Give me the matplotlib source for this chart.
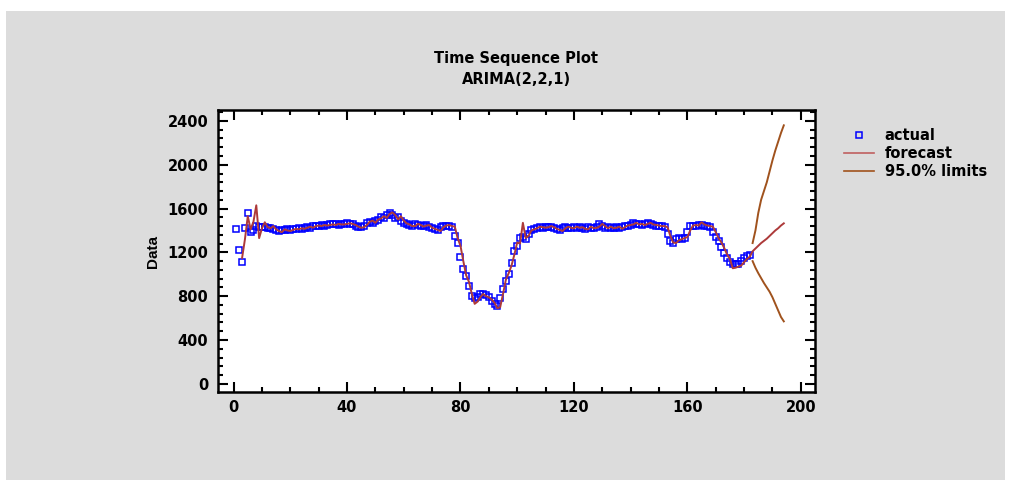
import matplotlib
matplotlib.use("Agg")
import matplotlib.pyplot as plt
from matplotlib.patches import Rectangle
from matplotlib.ticker import MultipleLocator
from matplotlib.lines import Line2D

plt.rcParams['font.family'] = ['DejaVu Sans']
plt.rcParams['font.weight'] = 'bold'

title = "Time Sequence Plot\nARIMA(2,2,1)"
y_label = "Data"
legend_labels = ["actual", "forecast", "95.0% limits"]

actual_start = 1
actual = [
    1410, 1225, 1115, 1420, 1560, 1390, 1400, 1440, 1430, 1435,
    1430, 1420, 1425, 1410, 1400, 1395, 1405, 1400, 1410, 1405,
    1410, 1415, 1420, 1410, 1425, 1430, 1420, 1440, 1445, 1440,
    1450, 1445, 1450, 1455, 1455, 1460, 1450, 1455, 1460, 1465,
    1460, 1455, 1440, 1435, 1430, 1445, 1470, 1480, 1465, 1490,
    1500, 1520, 1510, 1540, 1555, 1545, 1510, 1520, 1490, 1470,
    1460, 1450, 1445, 1455, 1450, 1440, 1445, 1450, 1430, 1420,
    1410, 1400, 1430, 1440, 1445, 1440, 1430, 1350, 1290, 1160,
    1050, 980, 890, 800, 780, 790, 820, 820, 810, 790,
    760, 730, 710, 780, 870, 940, 1000, 1100, 1210, 1260,
    1330, 1340, 1320, 1370, 1400, 1410, 1420, 1430, 1425, 1430,
    1435, 1430, 1420, 1410, 1400, 1420, 1430, 1425, 1420, 1430,
    1425, 1430, 1420, 1415, 1430, 1420, 1425, 1430, 1455, 1440,
    1425, 1430, 1420, 1425, 1430, 1420, 1430, 1440, 1445, 1450,
    1465, 1455, 1460, 1450, 1460, 1465, 1455, 1450, 1445, 1440,
    1440, 1435, 1370, 1300, 1290, 1320, 1330, 1325, 1330, 1385,
    1440, 1445, 1440, 1450, 1450, 1445, 1440, 1435, 1390, 1340,
    1300, 1250, 1195, 1150, 1110, 1095, 1090, 1095, 1120, 1150, 1165, 1175,
]

forecast_start = 3
forecast = [
    1150, 1320, 1530, 1410, 1480, 1630, 1330, 1420,
    1475, 1430, 1420, 1440, 1410, 1395, 1385, 1410, 1400, 1395,
    1405, 1415, 1410, 1420, 1415, 1425, 1435, 1425, 1440, 1445,
    1440, 1450, 1445, 1450, 1455, 1450, 1460, 1455, 1455, 1460,
    1465, 1460, 1450, 1435, 1425, 1430, 1450, 1480, 1490, 1470,
    1500, 1510, 1530, 1515, 1550, 1565, 1540, 1500, 1530, 1490,
    1465, 1455, 1440, 1440, 1460, 1450, 1435, 1445, 1450, 1425,
    1415, 1405, 1395, 1430, 1445, 1450, 1440, 1435, 1330, 1260,
    1120, 990, 930, 820, 730, 750, 790, 820, 800, 790,
    770, 740, 690, 700, 820, 950, 1010, 1080, 1180, 1290,
    1280, 1470, 1330, 1350, 1400, 1410, 1420, 1435, 1430, 1425,
    1430, 1440, 1430, 1415, 1405, 1395, 1420, 1435, 1425, 1420,
    1435, 1425, 1430, 1415, 1410, 1435, 1420, 1425, 1435, 1460,
    1440, 1420, 1435, 1420, 1425, 1435, 1415, 1430, 1445, 1450,
    1455, 1470, 1455, 1460, 1450, 1460, 1470, 1455, 1450, 1445,
    1440, 1440, 1430, 1350, 1290, 1285, 1310, 1320, 1330, 1340,
    1400, 1445, 1450, 1445, 1475, 1455, 1445, 1440, 1435, 1385,
    1330, 1290, 1240, 1180, 1140, 1055, 1060, 1070, 1080, 1110, 1140, 1160,
    1210, 1235, 1260, 1285, 1305, 1325, 1350, 1375, 1400, 1420, 1445, 1465,
]

limits_start = 183
upper = [1285, 1400, 1560, 1680, 1760, 1840, 1940, 2040, 2130, 2210, 2290, 2360]
lower = [1120, 1060, 1010, 965, 920, 880, 840, 790, 730, 670, 610, 570]

t_actual = list(range(actual_start, actual_start + len(actual)))
t_fc = list(range(forecast_start, forecast_start + len(forecast)))
t_lim = list(range(limits_start, limits_start + len(upper)))

W, H = 1012, 482
fig = plt.figure(figsize=(W / 100, H / 100), dpi=100)
fig.patch.set_facecolor("white")
fig.patches.append(Rectangle((6 / W, 2 / H), 999 / W, 469 / H, transform=fig.transFigure,
                             facecolor="#dcdcdc", edgecolor="none", zorder=-10))

ax = fig.add_axes([218 / W, 1 - 392 / H, 597 / W, 282 / H])
ax.set_facecolor("white")

fc_color = "#ad3a3a"
lim_color = "#a0521d"

ax.plot(t_fc, forecast, color=fc_color, lw=1.4, zorder=3)
ax.plot(t_lim, upper, color=lim_color, lw=1.4, zorder=3)
ax.plot(t_lim, lower, color=lim_color, lw=1.4, zorder=3)
ax.plot(t_actual, actual, linestyle="none", marker="s", markersize=4.4,
        markerfacecolor="none", markeredgecolor="#0000ff", markeredgewidth=1.1, zorder=2)

ax.set_xlim(-5.5, 205)
ax.set_ylim(-75, 2500)
ax.xaxis.set_major_locator(MultipleLocator(40))
ax.xaxis.set_minor_locator(MultipleLocator(10))
ax.yaxis.set_major_locator(MultipleLocator(400))
ax.yaxis.set_minor_locator(MultipleLocator(80))
ax.tick_params(which="both", direction="in", top=True, right=True, width=1.5,
               labelsize=10.5, colors="black")
ax.tick_params(which="major", length=7)
ax.tick_params(which="minor", length=3.5)
ax.tick_params(axis="y", which="major", pad=7)
ax.tick_params(axis="x", which="major", pad=6)
for lab in ax.get_xticklabels() + ax.get_yticklabels():
    lab.set_fontweight("bold")
for s in ax.spines.values():
    s.set_linewidth(1.8)

ax.set_ylabel(y_label, fontsize=11, fontweight="bold", family="Liberation Sans", labelpad=5)
fig.text(516 / W, 1 - 69 / H, title, ha="center", va="center", fontsize=10.5,
         fontweight="bold", linespacing=1.45)

handles = [
    Line2D([], [], linestyle="none", marker="s", markersize=4.4, markerfacecolor="none",
           markeredgecolor="#0000ff", markeredgewidth=1.1),
    Line2D([], [], color="#c06060", lw=1.2),
    Line2D([], [], color=lim_color, lw=1.2),
]
leg = fig.legend(handles, legend_labels, loc="upper left", bbox_to_anchor=(838 / W, 1 - 122 / H),
                 frameon=False, prop={"weight": "bold", "size": 10.5}, handlelength=2.1,
                 handletextpad=0.7, labelspacing=0.22, borderaxespad=0)

fig.savefig("out.png", dpi=100, facecolor=fig.get_facecolor())
